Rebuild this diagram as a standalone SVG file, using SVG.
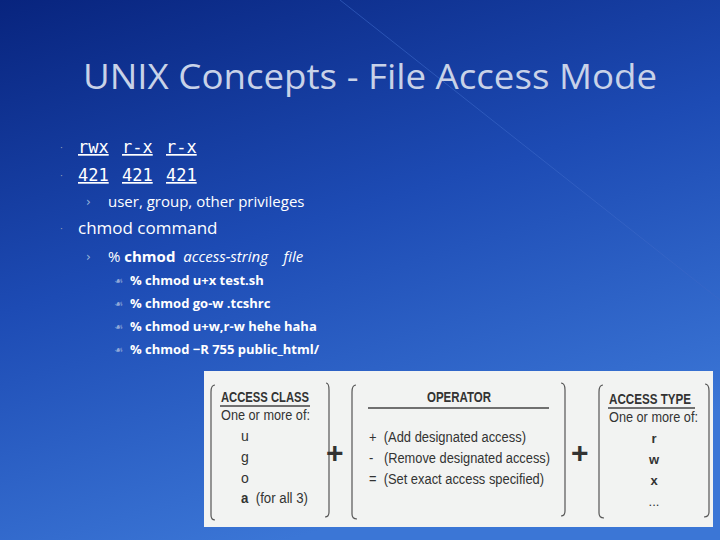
<svg xmlns="http://www.w3.org/2000/svg" width="720" height="540" viewBox="0 0 720 540">
<defs>
<linearGradient id="bg" x1="0" y1="0" x2="0.4" y2="1">
<stop offset="0" stop-color="#08247e"/>
<stop offset="0.5" stop-color="#1d4bb4"/>
<stop offset="1" stop-color="#3b76d6"/>
</linearGradient>
<style>
.t{font-family:"Open Sans","DejaVu Sans",sans-serif;fill:#fff}
.m{font-family:"DejaVu Sans Mono","Liberation Mono",monospace;fill:#fff;font-size:17px;text-decoration:underline}
.b{font-family:"Liberation Sans",Arial,sans-serif;fill:#333}
.bb{font-family:"Liberation Sans",Arial,sans-serif;fill:#333;font-weight:bold}
.br{fill:none;stroke:#555;stroke-width:1.2}
.bul{font-family:"DejaVu Sans",sans-serif;fill:#9ab;font-size:9px}
.sub{font-family:"DejaVu Sans",sans-serif;fill:#9bd;font-size:12px}
</style>
</defs>
<rect width="720" height="540" fill="url(#bg)"/>
<line x1="340" y1="0" x2="720" y2="300" stroke="#3c68c8" stroke-width="1" opacity="0.6"/>
<text x="370" y="89" text-anchor="middle" class="t" style="font-size:34px;fill:#c8d2e8" textLength="574" lengthAdjust="spacingAndGlyphs">UNIX Concepts - File Access Mode</text>
<text x="60" y="151" class="bul">·</text>
<text x="60" y="179" class="bul">·</text>
<text x="60" y="232" class="bul">·</text>
<text x="78" y="153" class="m">rwx</text><text x="122" y="153" class="m">r-x</text><text x="166" y="153" class="m">r-x</text>
<text x="78" y="181" class="m">421</text><text x="122" y="181" class="m">421</text><text x="166" y="181" class="m">421</text>
<text x="86" y="206" class="sub">›</text>
<text x="108" y="207" class="t" style="font-size:15px">user, group, other privileges</text>
<text x="78" y="234" class="t" style="font-size:17px">chmod command</text>
<text x="86" y="261" class="sub">›</text>
<text x="108" y="262" class="t" style="font-size:15px" xml:space="preserve">% <tspan font-weight="bold">chmod</tspan>  <tspan font-style="italic">access-string</tspan>    <tspan font-style="italic">file</tspan></text>
<g class="t" style="font-size:13px;font-weight:bold">
<text x="130" y="285">% chmod u+x test.sh</text>
<text x="130" y="308">% chmod go-w .tcshrc</text>
<text x="130" y="331">% chmod u+w,r-w hehe haha</text>
<text x="130" y="354">% chmod −R 755 public_html/</text>
</g>
<g class="bul" style="font-size:10px;fill:#8fa8d8">
<text x="114" y="284">☙</text><text x="114" y="307">☙</text><text x="114" y="330">☙</text><text x="114" y="353">☙</text>
</g>
<g id="figure">
<rect x="204" y="371" width="509" height="156" fill="#f2f3f2"/>
<g id="class">
<path class="br" d="M215,385 Q211,385 211,392 V515 Q211,520 215,520"/>
<path class="br" d="M326,383 Q329,383 329,390 V512 Q329,517 325,517"/>
<text x="221" y="402" class="bb" style="font-size:15px" textLength="88" lengthAdjust="spacingAndGlyphs">ACCESS CLASS</text>
<line x1="220" y1="406" x2="310" y2="406" stroke="#444" stroke-width="1.5"/>
<text x="221" y="420" class="b" style="font-size:14px" textLength="89" lengthAdjust="spacingAndGlyphs">One or more of:</text>
<text x="241" y="441" class="b" style="font-size:14px">u</text>
<text x="241" y="462" class="b" style="font-size:14px">g</text>
<text x="241" y="483" class="b" style="font-size:14px">o</text>
<text x="241" y="503" class="b" style="font-size:14px" xml:space="preserve" textLength="67" lengthAdjust="spacingAndGlyphs"><tspan font-weight="bold">a</tspan>  (for all 3)</text>
</g>
<text x="326" y="463" class="bb" style="font-size:30px">+</text>
<g id="operator">
<path class="br" d="M356,385 Q352,385 352,392 V514 Q352,519 357,519"/>
<path class="br" d="M561,383 Q565,383 565,390 V511 Q565,516 561,516"/>
<text x="459" y="402" text-anchor="middle" class="bb" style="font-size:15px" textLength="64" lengthAdjust="spacingAndGlyphs">OPERATOR</text>
<line x1="368" y1="408" x2="549" y2="408" stroke="#444" stroke-width="1.5"/>
<text x="369" y="442" class="b" style="font-size:14px" xml:space="preserve" textLength="157" lengthAdjust="spacingAndGlyphs">+  (Add designated access)</text>
<text x="369" y="463" class="b" style="font-size:14px" xml:space="preserve" textLength="181" lengthAdjust="spacingAndGlyphs">-   (Remove designated access)</text>
<text x="369" y="484" class="b" style="font-size:14px" xml:space="preserve" textLength="175" lengthAdjust="spacingAndGlyphs">=  (Set exact access specified)</text>
</g>
<text x="571" y="463" class="bb" style="font-size:30px">+</text>
<g id="type">
<path class="br" d="M603,385 Q599,385 599,392 V513 Q599,518 604,518"/>
<path class="br" d="M705,384 Q709,384 709,391 V512 Q709,517 704,517"/>
<text x="609" y="404" class="bb" style="font-size:15px" textLength="82" lengthAdjust="spacingAndGlyphs">ACCESS TYPE</text>
<line x1="608" y1="408" x2="695" y2="408" stroke="#444" stroke-width="1.5"/>
<text x="609" y="422" class="b" style="font-size:14px" textLength="89" lengthAdjust="spacingAndGlyphs">One or more of:</text>
<text x="654" y="443" text-anchor="middle" class="bb" style="font-size:13px">r</text>
<text x="654" y="464" text-anchor="middle" class="bb" style="font-size:13px">w</text>
<text x="654" y="485" text-anchor="middle" class="bb" style="font-size:13px">x</text>
<text x="654" y="506" text-anchor="middle" class="b" style="font-size:13px">...</text>
</g>
</g>
</svg>
